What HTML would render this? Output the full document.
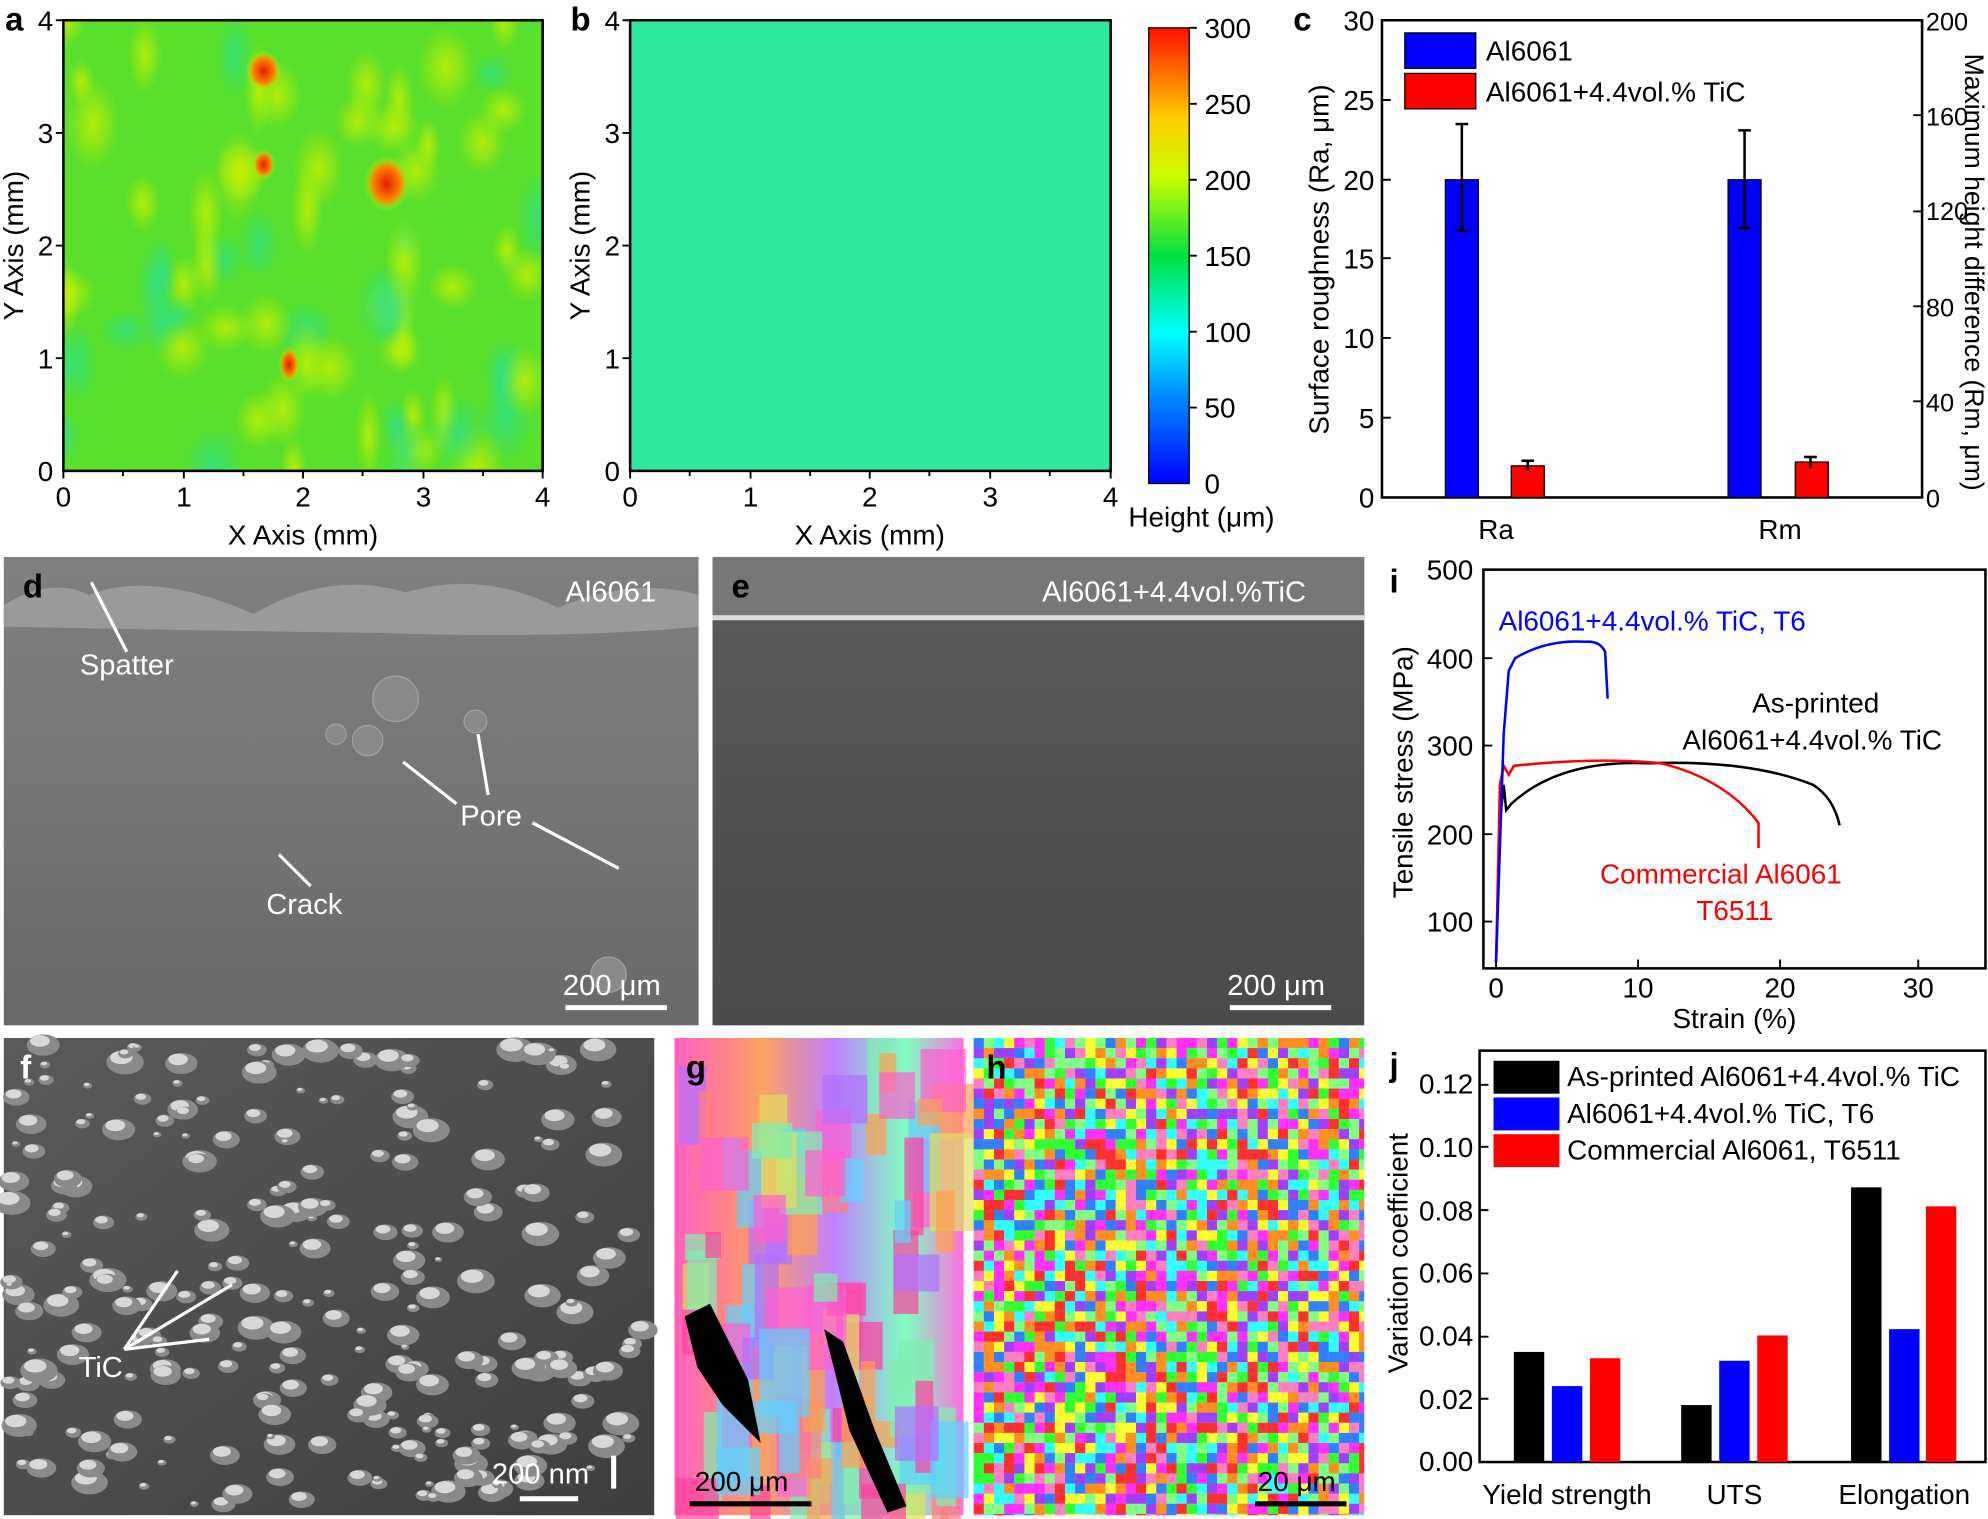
<!DOCTYPE html>
<html><head><meta charset="utf-8"><style>
html,body{margin:0;padding:0;background:#fff;}
svg{display:block;font-family:"Liberation Sans",Arial,sans-serif;}
</style></head><body>
<svg id="s" width="1988" height="1519" viewBox="0 0 1568 1200" preserveAspectRatio="none" xmlns="http://www.w3.org/2000/svg">
<defs>
<linearGradient id="cb" x1="0" y1="1" x2="0" y2="0">
<stop offset="0" stop-color="#0000ff"/><stop offset="0.2" stop-color="#0090ff"/><stop offset="0.33" stop-color="#00ffff"/><stop offset="0.5" stop-color="#00e040"/><stop offset="0.67" stop-color="#c8ff00"/><stop offset="0.8" stop-color="#ffd000"/><stop offset="1" stop-color="#ff1000"/>
</linearGradient>
<radialGradient id="hot"><stop offset="0" stop-color="#e02000"/><stop offset="0.6" stop-color="#ff8000"/><stop offset="1" stop-color="#c0ff00" stop-opacity="0"/></radialGradient>
<radialGradient id="yb"><stop offset="0" stop-color="#c8f000" stop-opacity="0.8"/><stop offset="1" stop-color="#c8f000" stop-opacity="0"/></radialGradient>
<radialGradient id="cbb"><stop offset="0" stop-color="#20e0a0" stop-opacity="0.6"/><stop offset="1" stop-color="#20e0a0" stop-opacity="0"/></radialGradient>
<clipPath id="ca"><rect x="50" y="16" width="378" height="356"/></clipPath>
<linearGradient id="dg" x1="0" y1="0" x2="0" y2="1"><stop offset="0" stop-color="#808080"/><stop offset="1" stop-color="#6a6a6a"/></linearGradient>
<linearGradient id="eg" x1="0" y1="0" x2="0" y2="1"><stop offset="0" stop-color="#5a5a5a"/><stop offset="1" stop-color="#4a4a4a"/></linearGradient>
<linearGradient id="fg" x1="0" y1="0" x2="1" y2="1"><stop offset="0" stop-color="#5a5a5a"/><stop offset="1" stop-color="#3e3e3e"/></linearGradient>
<linearGradient id="gg" x1="0" y1="0" x2="1" y2="0"><stop offset="0" stop-color="#ff60c0"/><stop offset="0.3" stop-color="#ffa060"/><stop offset="0.55" stop-color="#c080ff"/><stop offset="0.8" stop-color="#80ffc0"/><stop offset="1" stop-color="#ff70e0"/></linearGradient>
</defs>
<g font-size="22" fill="#000">
<rect x="50" y="16" width="378" height="356" fill="#58e02c"/>
<g id="abl" clip-path="url(#ca)"></g>
<ellipse cx="208" cy="56" rx="14" ry="16" fill="url(#hot)"/>
<ellipse cx="208" cy="130" rx="9" ry="12" fill="url(#hot)"/>
<ellipse cx="305" cy="145" rx="18" ry="22" fill="url(#hot)"/>
<ellipse cx="228" cy="288" rx="8" ry="14" fill="url(#hot)"/>
<rect x="50" y="16" width="378" height="356" fill="none" stroke="#000" stroke-width="2"/>
<text x="4" y="24" font-weight="bold" font-size="26">a</text>
<g text-anchor="end"><text x="42" y="24">4</text><text x="42" y="113">3</text><text x="42" y="202">2</text><text x="42" y="291">1</text><text x="42" y="380">0</text></g>
<g text-anchor="middle"><text x="50" y="400">0</text><text x="145" y="400">1</text><text x="239" y="400">2</text><text x="334" y="400">3</text><text x="428" y="400">4</text>
<text x="239" y="430">X Axis (mm)</text>
<text transform="translate(18,194) rotate(-90)">Y Axis (mm)</text></g>
<g stroke="#000" stroke-width="1.5"><path d="M50 372v6M97 372v4M145 372v6M192 372v4M239 372v6M286 372v4M334 372v6M381 372v4M428 372v6M497 372v6M544 372v4M592 372v6M639 372v4M686 372v6M733 372v4M781 372v6M828 372v4M876 372v6M44 16h6M44 105h6M44 194h6M44 283h6M491 16h6M491 105h6M491 194h6M491 283h6M938 22h6M938 82h6M938 142h6M938 202h6M938 262h6M938 322h6"/></g>
<rect x="497" y="16" width="379" height="356" fill="#2eeaa0" stroke="#000" stroke-width="2"/>
<text x="450" y="24" font-weight="bold" font-size="26">b</text>
<g text-anchor="end"><text x="489" y="24">4</text><text x="489" y="113">3</text><text x="489" y="202">2</text><text x="489" y="291">1</text><text x="489" y="380">0</text></g>
<g text-anchor="middle"><text x="497" y="400">0</text><text x="592" y="400">1</text><text x="686" y="400">2</text><text x="781" y="400">3</text><text x="876" y="400">4</text>
<text x="686" y="430">X Axis (mm)</text>
<text transform="translate(465,194) rotate(-90)">Y Axis (mm)</text></g>
<rect x="906" y="22" width="32" height="360" fill="url(#cb)" stroke="#000" stroke-width="1"/>
<g><text x="950" y="30">300</text><text x="950" y="90">250</text><text x="950" y="150">200</text><text x="950" y="210">150</text><text x="950" y="270">100</text><text x="950" y="330">50</text><text x="950" y="390">0</text>
<text x="890" y="416">Height (μm)</text></g>
<rect x="1090" y="16" width="426" height="377" fill="none" stroke="#000" stroke-width="2"/>
<g stroke="#000" stroke-width="1.5"><path d="M1090 16h7M1090 79h7M1090 142h7M1090 204h7M1090 267h7M1090 330h7M1516 16h-7M1516 91h-7M1516 167h-7M1516 242h-7M1516 317h-7"/></g>
<text x="1020" y="24" font-weight="bold" font-size="26">c</text>
<g text-anchor="end"><text x="1084" y="24">30</text><text x="1084" y="87">25</text><text x="1084" y="150">20</text><text x="1084" y="212">15</text><text x="1084" y="275">10</text><text x="1084" y="338">5</text><text x="1084" y="401">0</text></g>
<g font-size="20"><text x="1519" y="24">200</text><text x="1519" y="99">160</text><text x="1519" y="174">120</text><text x="1519" y="250">80</text><text x="1519" y="325">40</text><text x="1519" y="401">0</text></g>
<rect x="1140" y="142" width="26" height="251" fill="#0000ff" stroke="#000"/>
<rect x="1192" y="368" width="26" height="25" fill="#ff0000" stroke="#000"/>
<rect x="1363" y="142" width="26" height="251" fill="#0000ff" stroke="#000"/>
<rect x="1416" y="365" width="26" height="28" fill="#ff0000" stroke="#000"/>
<g stroke="#000" stroke-width="2"><line x1="1153" y1="98" x2="1153" y2="182"/><line x1="1148" y1="98" x2="1158" y2="98"/><line x1="1148" y1="182" x2="1158" y2="182"/>
<line x1="1376" y1="103" x2="1376" y2="180"/><line x1="1371" y1="103" x2="1381" y2="103"/><line x1="1371" y1="180" x2="1381" y2="180"/>
<line x1="1205" y1="364" x2="1205" y2="372"/><line x1="1200" y1="364" x2="1210" y2="364"/><line x1="1428" y1="361" x2="1428" y2="370"/><line x1="1423" y1="361" x2="1433" y2="361"/></g>
<rect x="1108" y="26" width="56" height="28" fill="#0000ff" stroke="#000"/><text x="1172" y="48">Al6061</text>
<rect x="1108" y="58" width="56" height="28" fill="#ff0000" stroke="#000"/><text x="1172" y="80">Al6061+4.4vol.% TiC</text>
<g text-anchor="middle"><text x="1180" y="426">Ra</text><text x="1404" y="426">Rm</text>
<text transform="translate(1048,205) rotate(-90)">Surface roughness (Ra, μm)</text>
<text transform="translate(1550,215) rotate(90)" font-size="21">Maximum height difference (Rm, μm)</text></g>
<rect x="3" y="440" width="548" height="370" fill="url(#dg)"/>
<path d="M3 478 Q40 455 70 470 Q120 450 200 485 Q260 450 320 468 Q380 450 440 480 Q500 455 551 470 L551 495 Q450 505 300 500 Q150 498 3 495Z" fill="#9a9a9a"/>
<g fill="#8a8a8a" stroke="#a0a0a0"><circle cx="312" cy="552" r="18"/><circle cx="290" cy="585" r="12"/><circle cx="375" cy="570" r="9"/><circle cx="265" cy="580" r="8"/><circle cx="480" cy="770" r="14"/></g>
<g fill="#fff" font-size="23"><text x="18" y="472" font-weight="bold" font-size="26" style="fill:#000">d</text>
<text x="446" y="475">Al6061</text><text x="63" y="533">Spatter</text><text x="363" y="652">Pore</text><text x="210" y="722">Crack</text><text x="444" y="786">200 μm</text></g>
<g stroke="#fff" stroke-width="2.5"><line x1="100" y1="515" x2="72" y2="460"/><line x1="360" y1="635" x2="318" y2="602"/><line x1="385" y1="628" x2="377" y2="580"/><line x1="420" y1="650" x2="488" y2="686"/><line x1="245" y1="700" x2="220" y2="675"/><line x1="446" y1="796" x2="526" y2="796" stroke-width="4"/></g>
<rect x="562" y="440" width="514" height="370" fill="url(#eg)"/>
<rect x="562" y="440" width="514" height="48" fill="#777"/><rect x="562" y="486" width="514" height="4" fill="#ddd"/>
<text x="577" y="472" font-weight="bold" font-size="26">e</text>
<g fill="#fff" font-size="23"><text x="822" y="475">Al6061+4.4vol.%TiC</text><text x="968" y="786">200 μm</text></g>
<line x1="970" y1="796" x2="1050" y2="796" stroke="#fff" stroke-width="4"/>
<rect x="1170" y="450" width="396" height="315" fill="none" stroke="#000" stroke-width="2"/>
<g stroke="#000" stroke-width="1.5"><path d="M1180 765v-7M1292 765v-7M1404 765v-7M1513 765v-7M1170 450h7M1170 520h7M1170 589h7M1170 659h7M1170 728h7"/></g>
<text x="1096" y="468" font-weight="bold" font-size="26">i</text>
<g text-anchor="end"><text x="1162" y="458">500</text><text x="1162" y="528">400</text><text x="1162" y="597">300</text><text x="1162" y="667">200</text><text x="1162" y="736">100</text></g>
<g text-anchor="middle"><text x="1180" y="788">0</text><text x="1292" y="788">10</text><text x="1404" y="788">20</text><text x="1513" y="788">30</text><text x="1368" y="812">Strain (%)</text>
<text transform="translate(1114,610) rotate(-90)">Tensile stress (MPa)</text></g>
<g fill="none" stroke-width="2">
<path d="M1180 760 L1183 650 L1186 620 L1188 640 L1192 635 Q1230 600 1300 603 Q1380 600 1430 620 Q1446 630 1451 652" stroke="#000"/>
<path d="M1180 760 L1183 620 L1186 605 L1190 612 L1194 605 Q1260 598 1310 603 Q1360 615 1387 650 L1387 670" stroke="#f00"/>
<path d="M1180 760 L1186 580 L1190 530 L1195 520 Q1220 505 1250 507 Q1262 506 1266 515 L1268 552" stroke="#00f"/>
</g>
<text x="1182" y="498" fill="#00f">Al6061+4.4vol.% TiC, T6</text>
<text x="1382" y="563">As-printed</text><text x="1327" y="592">Al6061+4.4vol.% TiC</text>
<text x="1262" y="698" fill="#f00">Commercial Al6061</text><text x="1338" y="727" fill="#f00">T6511</text>
<rect x="3" y="820" width="513" height="377" fill="url(#fg)"/>
<g id="fbl"></g>
<text x="16" y="852" font-weight="bold" font-size="26" fill="#fff">f</text>
<g fill="#fff" font-size="23"><text x="62" y="1088">TiC</text><text x="388" y="1172">200 nm</text></g>
<g stroke="#fff" stroke-width="2.5"><line x1="98" y1="1066" x2="140" y2="1004"/><line x1="98" y1="1066" x2="183" y2="1015"/><line x1="98" y1="1066" x2="165" y2="1058"/><line x1="410" y1="1184" x2="456" y2="1184" stroke-width="4"/><line x1="484" y1="1150" x2="484" y2="1176" stroke-width="4"/></g>
<rect x="532" y="820" width="228" height="377" fill="url(#gg)"/>
<g id="gbl"></g>
<text x="541" y="852" font-weight="bold" font-size="26">g</text>
<text x="548" y="1178">200 μm</text><line x1="544" y1="1188" x2="640" y2="1188" stroke="#000" stroke-width="4"/>
<rect x="768" y="820" width="308" height="377" fill="#c0a0e0"/>
<g id="hbl"></g>
<text x="778" y="852" font-weight="bold" font-size="26">h</text>
<text x="992" y="1178">20 μm</text><line x1="990" y1="1188" x2="1062" y2="1188" stroke="#000" stroke-width="4"/>
<rect x="1167" y="830" width="399" height="325" fill="none" stroke="#000" stroke-width="2"/>
<g stroke="#000" stroke-width="1.5"><path d="M1167 857h7M1167 906h7M1167 956h7M1167 1006h7M1167 1056h7M1167 1105h7"/></g>
<text x="1096" y="850" font-weight="bold" font-size="26">j</text>
<g text-anchor="end"><text x="1162" y="864">0.12</text><text x="1162" y="914">0.10</text><text x="1162" y="964">0.08</text><text x="1162" y="1013">0.06</text><text x="1162" y="1063">0.04</text><text x="1162" y="1113">0.02</text><text x="1162" y="1162">0.00</text></g>
<text transform="translate(1110,990) rotate(-90)" text-anchor="middle">Variation coefficient</text>
<g><rect x="1194" y="1068" width="24" height="87" fill="#000"/><rect x="1224" y="1095" width="24" height="60" fill="#00f"/><rect x="1254" y="1073" width="24" height="82" fill="#f00"/>
<rect x="1326" y="1110" width="24" height="45" fill="#000"/><rect x="1356" y="1075" width="24" height="80" fill="#00f"/><rect x="1386" y="1055" width="24" height="100" fill="#f00"/>
<rect x="1460" y="938" width="24" height="217" fill="#000"/><rect x="1490" y="1050" width="24" height="105" fill="#00f"/><rect x="1519" y="953" width="24" height="202" fill="#f00"/></g>
<rect x="1178" y="838" width="52" height="26" fill="#000"/><text x="1236" y="858">As-printed Al6061+4.4vol.% TiC</text>
<rect x="1178" y="867" width="52" height="26" fill="#00f"/><text x="1236" y="887">Al6061+4.4vol.% TiC, T6</text>
<rect x="1178" y="896" width="52" height="26" fill="#f00"/><text x="1236" y="916">Commercial Al6061, T6511</text>
<g text-anchor="middle"><text x="1236" y="1188">Yield strength</text><text x="1368" y="1188">UTS</text><text x="1502" y="1188">Elongation</text></g>
</g>
</svg>
<script>
var seed=7;function r(){seed=(seed*16807)%2147483647;return seed/2147483647;}
var NS="http://www.w3.org/2000/svg";
function add(g,tag,at){var e=document.createElementNS(NS,tag);for(var k in at)e.setAttribute(k,at[k]);document.getElementById(g).appendChild(e);}
for(var i=0;i<70;i++)add("abl","ellipse",{cx:50+r()*378,cy:16+r()*356,rx:10+r()*14,ry:16+r()*22,fill:r()<0.7?"url(#yb)":"url(#cbb)"});
for(var i=0;i<260;i++){var x=8+r()*500,y=825+r()*365,s=3+r()*12;add("fbl","ellipse",{cx:x,cy:y,rx:s,ry:s*0.65,fill:"#8a8a8a"});add("fbl","ellipse",{cx:x-s*0.2,cy:y-s*0.25,rx:s*0.6,ry:s*0.35,fill:"#d8d8d8"});}
var gc=["#ff60d0","#ffa050","#b070ff","#80f0b0","#ff8080","#60d0ff","#e0e060","#ff40a0"];
for(var i=0;i<90;i++)add("gbl","rect",{x:532+r()*210,y:820+r()*360,width:10+r()*30,height:20+r()*60,fill:gc[Math.floor(r()*8)],opacity:0.7});
add("gbl","path",{d:"M540 1040 L560 1030 L590 1090 L600 1140 L570 1110 L550 1080Z",fill:"#000"});
add("gbl","path",{d:"M650 1050 L665 1060 L690 1130 L715 1190 L700 1195 L670 1130Z",fill:"#000"});
var hc=["#ff3030","#30ff30","#3080ff","#ff30ff","#ffff30","#30ffff","#ff9020","#a040ff","#80ff80","#ff80c0"];
for(var y=820;y<1197;y+=8)for(var x=768;x<1076;x+=8)add("hbl","rect",{x:x,y:y,width:Math.min(8,1076-x),height:Math.min(8,1197-y),fill:hc[Math.floor(r()*10)]});
</script>
</body></html>
